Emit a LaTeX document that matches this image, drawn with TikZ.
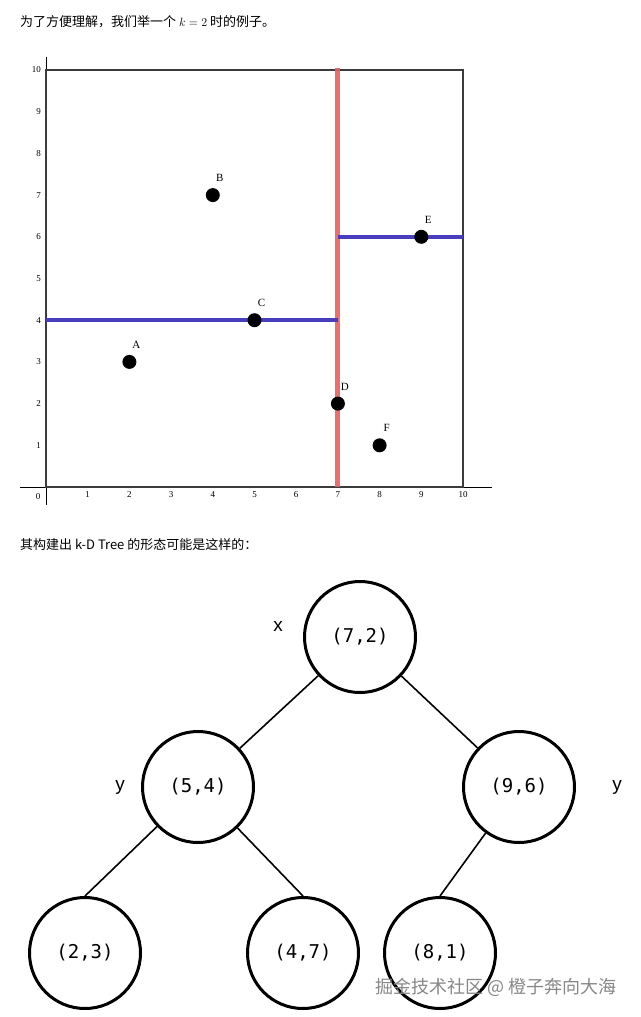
\documentclass[tikz,border=0pt]{standalone}
\usepackage{fontspec}
\setmainfont{Liberation Serif}
\newfontfamily\cjk{Noto Sans CJK SC}
\newfontfamily\monof{DejaVu Sans Mono}
\newfontfamily\sansf{Liberation Sans}
\definecolor{splitred}{RGB}{232,96,96}
\definecolor{splitblue}{RGB}{72,62,190}
\definecolor{boxgray}{RGB}{60,60,60}
\definecolor{markgray}{RGB}{135,135,135}
\begin{document}
\begin{tikzpicture}
    [x=1pt, y=-1pt,
     txt/.style={anchor=west, inner sep=0pt, font=\cjk\fontsize{13}{13}\selectfont},
     pt/.style={circle, fill=black, inner sep=0pt, minimum size=14pt},
     lbl/.style={inner sep=0pt, font=\fontsize{11}{11}\selectfont},
     tick/.style={inner sep=0pt, font=\fontsize{9}{9}\selectfont},
     kd/.style={circle, draw, line width=3pt, minimum size=111pt,
       inner sep=0pt, font=\monof\fontsize{19}{19}\selectfont},
     edge/.style={line width=1.6pt},
     dim/.style={font=\sansf\fontsize{19}{19}\selectfont}]
    \def \u {41.7pt} % one unit of the plot
    \useasboundingbox (0,0) rectangle (640,1017);

    \node[txt] (intro) at (20,22) {为了方便理解，我们举一个 $k=2$ 时的例子。};

    \begin{scope}[shift={(46,487)}, x=\u, y=\u]
      \draw[black, line width=0.8pt] (-0.62,0) -- (10.7,0);
      \draw[black, line width=0.8pt] (0,-0.43) -- (0,10.31);
      \draw[boxgray, line width=2.6pt] (0,0) rectangle (10,10);
      \foreach \i in {1,...,10}
      {
        \node[tick, anchor=north] (tx\i) at (\i,-0.1) {\i};
        \node[tick, anchor=east] (ty\i) at (-0.12,\i) {\i};
      }
      \node[tick] (t0) at (-0.19,-0.24) {0};

      \draw[splitred, line width=5pt, opacity=0.9] (7,0) -- (7,10.05);
      \draw[splitblue, line width=4pt] (0,4) -- (7,4);
      \draw[splitblue, line width=4pt] (7,6) -- (10,6);

      \foreach \name/\px/\py in {A/2/3, B/4/7, C/5/4, D/7/2, E/9/6, F/8/1}
      {
        \node[pt] (\name) at (\px,\py) {};
        \node[lbl] (l\name) at ([xshift=7pt, yshift=17pt]\name) {\name};
      }
    \end{scope}

    \node[txt] (tree) at (20,545) {其构建出 k-D Tree 的形态可能是这样的：};

    \node[kd] (n72) at (360,637) {(7,2)};
    \node[kd] (n54) at (198,787) {(5,4)};
    \node[kd] (n96) at (519,787) {(9,6)};
    \node[kd] (n23) at (85,953) {(2,3)};
    \node[kd] (n47) at (303,953) {(4,7)};
    \node[kd] (n81) at (440,953) {(8,1)};

    \draw[edge] (n72) -- (n54);
    \draw[edge] (n72) -- (n96);
    \draw[edge] (n54) -- (n23.north);
    \draw[edge] (n54) -- (n47.north);
    \draw[edge] (n96) -- (n81.north);

    \node[dim] (dx) at (278,626) {x};
    \node[dim] (dy1) at (120,787) {y};
    \node[dim] (dy2) at (617,787) {y};

    \node[markgray, inner sep=0pt, font=\cjk\fontsize{18}{18}\selectfont]
      (mark) at (496,987) {掘金技术社区 @ 橙子奔向大海};
\end{tikzpicture}
\end{document}
